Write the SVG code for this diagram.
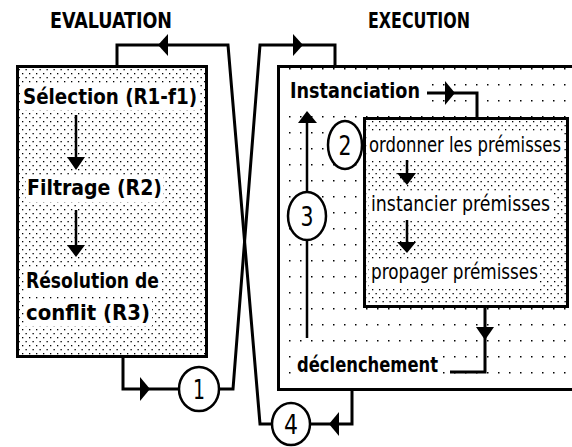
<svg xmlns="http://www.w3.org/2000/svg" width="572" height="447" viewBox="0 0 572 447">
<style>
.title{font-family:"DejaVu Sans Condensed","Liberation Sans",sans-serif;font-weight:bold;font-size:21px;fill:#000}
.bold{font-family:"DejaVu Sans Condensed","Liberation Sans",sans-serif;font-weight:bold;font-size:22px;fill:#000}
.reg{font-family:"DejaVu Sans Condensed","Liberation Sans",sans-serif;font-size:21px;fill:#000}
.reg18{font-family:"DejaVu Sans Condensed","Liberation Sans",sans-serif;font-size:18px;fill:#000}
.num{font-family:"DejaVu Sans Condensed","Liberation Sans",sans-serif;font-size:27px;fill:#000;text-anchor:middle}
.box{stroke:#000;stroke-width:3}
.wb{fill:#fff}
.ln{fill:none;stroke:#000;stroke-width:3}
.thin{fill:none;stroke:#000;stroke-width:2.5}
.head{fill:#000}
.circ{fill:#fff;stroke:#000;stroke-width:2.5}
</style>
<defs>
<pattern id="dense" width="7" height="8" patternUnits="userSpaceOnUse">
<rect width="7" height="8" fill="#fff"/>
<rect x="1" y="1" width="1.3" height="1.3" fill="#000"/>
<rect x="4.5" y="5" width="1.3" height="1.3" fill="#000"/>
</pattern>
<pattern id="sparse" width="11" height="16" patternUnits="userSpaceOnUse">
<rect width="11" height="16" fill="#fff"/>
<rect x="3" y="4" width="1.5" height="1.5" fill="#000"/>
</pattern>
</defs>

<text class="title" x="50" y="28" textLength="122" lengthAdjust="spacingAndGlyphs">EVALUATION</text>
<text class="title" x="368" y="28" textLength="102" lengthAdjust="spacingAndGlyphs">EXECUTION</text>

<g id="evaluation">
<rect class="box" x="17.5" y="66.5" width="189" height="290" fill="url(#dense)"/>
<rect class="wb" x="20" y="83" width="180" height="27"/>
<rect class="wb" x="26" y="175" width="137" height="27"/>
<rect class="wb" x="24" y="269" width="136" height="26"/>
<rect class="wb" x="24" y="300" width="128" height="26"/>
<text class="bold" x="23" y="104" textLength="174" lengthAdjust="spacingAndGlyphs">Sélection (R1-f1)</text>
<text class="bold" x="27" y="195" textLength="135" lengthAdjust="spacingAndGlyphs">Filtrage  (R2)</text>
<text class="bold" x="26" y="288" textLength="133" lengthAdjust="spacingAndGlyphs">Résolution de</text>
<text class="bold" x="26" y="320" textLength="124" lengthAdjust="spacingAndGlyphs">conflit  (R3)</text>
<path class="thin" d="M76,115 V160 M76,210 V248"/>
<path class="head" d="M67,157 L85,157 L76,170 Z M67,245 L85,245 L76,257 Z"/>
</g>

<g id="execution">
<rect class="box" x="278.5" y="66.5" width="300" height="323" fill="url(#sparse)"/>
<rect class="wb" x="288" y="79" width="136" height="25"/>
<rect class="wb" x="294" y="351" width="148" height="29"/>
<text class="bold" x="290" y="98" textLength="130" lengthAdjust="spacingAndGlyphs">Instanciation</text>
<text class="bold" x="297" y="372" textLength="141" lengthAdjust="spacingAndGlyphs">déclenchement</text>
</g>

<g id="instanciation-box">
<rect class="box" x="364.5" y="118.5" width="203" height="188" fill="url(#dense)"/>
<rect class="wb" x="367" y="132" width="197" height="28"/>
<rect class="wb" x="369" y="192" width="183" height="27"/>
<rect class="wb" x="369" y="261" width="171" height="28"/>
<text class="reg18" transform="translate(369,152) scale(1,1.17)" x="0" y="0" textLength="192" lengthAdjust="spacingAndGlyphs">ordonner les prémisses</text>
<text class="reg" x="371" y="211" textLength="179" lengthAdjust="spacingAndGlyphs">instancier prémisses</text>
<text class="reg" x="371" y="279" textLength="167" lengthAdjust="spacingAndGlyphs">propager prémisses</text>
<path class="thin" d="M407,160 V175 M407,220 V244"/>
<path class="head" d="M397,173 L416,173 L407,185 Z M397,242 L416,242 L407,253 Z"/>
</g>

<g id="connectors">
<path class="ln" d="M117,65 V45 H228 L260,424 H272"/>
<path class="head" d="M158,45 L168,34 L168,56 Z"/>
<path class="ln" d="M335,65 V45 H260 L233,389 H219"/>
<path class="head" d="M303,45 L293,34 L293,56 Z"/>
<path class="ln" d="M123,358 V389 H180"/>
<path class="head" d="M150,389 L140,377 L140,401 Z"/>
<path class="ln" d="M352,391 V424 H310"/>
<path class="head" d="M329,424 L339,412 L339,436 Z"/>
<path class="ln" d="M427,93 H477 V117"/>
<path class="head" d="M455,93 L445,81 L445,105 Z"/>
<path class="ln" d="M450,372 H485 V308"/>
<path class="head" d="M476,327 L494,327 L485,340 Z"/>
<path class="thin" d="M307,338 V240 M307,192 V120"/>
<path class="head" d="M298,123 L317,123 L307,111 Z"/>
</g>

<g id="c1"><ellipse class="circ" cx="199" cy="389" rx="20" ry="22"/><text class="num" x="199" y="399" textLength="12" lengthAdjust="spacingAndGlyphs">1</text></g>
<g id="c2"><ellipse class="circ" cx="345" cy="145" rx="17" ry="24"/><text class="num" x="345" y="155" textLength="13" lengthAdjust="spacingAndGlyphs">2</text></g>
<g id="c3"><ellipse class="circ" cx="307" cy="216" rx="19" ry="24"/><text class="num" x="307" y="226" textLength="13" lengthAdjust="spacingAndGlyphs">3</text></g>
<g id="c4"><ellipse class="circ" cx="291" cy="424" rx="19" ry="21"/><text class="num" x="291" y="434" textLength="14" lengthAdjust="spacingAndGlyphs">4</text></g>
</svg>
